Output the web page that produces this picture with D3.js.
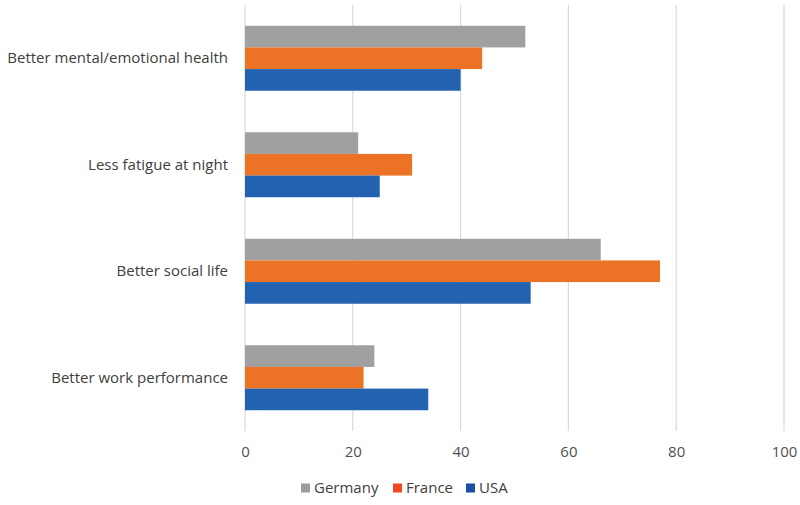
<!DOCTYPE html>
<html><head><meta charset="utf-8">
<script src="https://cdn.jsdelivr.net/npm/d3@7"></script>
<style>body{margin:0;background:#fff}svg{display:block}text{font-family:"Open Sans",sans-serif}</style>
</head><body><svg id="c" width="800" height="505"></svg>
<script>
const categories = ["Better mental/emotional health","Less fatigue at night","Better social life","Better work performance"];
const seriesNames = ["Germany","France","USA"];
const germany = [52,21,66,24];
const france = [44,31,77,22];
const usa = [40,25,53,34];
const xTicks = [0,20,40,60,80,100];
const colors = ["#A0A0A0","#EC7326","#2262B0"];
const legendColors = ["#9C9C9C","#EE4A1E","#1A4FA8"];

const svg = d3.select("#c");
const x = d3.scaleLinear().domain([0,100]).range([245,784]);
const y = d3.scaleBand().domain(categories).range([5,431]).paddingInner(0.39).paddingOuter(0.195);
const ys = d3.scaleBand().domain(seriesNames).range([0,y.bandwidth()]);

svg.append("g").selectAll("line").data(xTicks).join("line")
  .attr("x1",d=>x(d)).attr("x2",d=>x(d)).attr("y1",5).attr("y2",431)
  .attr("stroke","#d9d9d9").attr("stroke-width",1.2);

const data = [germany,france,usa];
const rows = [];
categories.forEach((c,i)=>seriesNames.forEach((s,j)=>rows.push({c,s,v:data[j][i],j})));
svg.append("g").selectAll("rect").data(rows).join("rect")
  .attr("x",x(0)).attr("y",d=>y(d.c)+ys(d.s)).attr("width",d=>x(d.v)-x(0)).attr("height",ys.bandwidth())
  .attr("fill",d=>colors[d.j]);

const xAxis = d3.axisBottom(x).tickValues(xTicks).tickSize(0).tickPadding(0);
const gx = svg.append("g").attr("transform","translate(0,452)").call(xAxis);
gx.select(".domain").remove();
gx.selectAll("text").attr("font-size","15px").attr("fill","#505050").attr("font-family","Open Sans, sans-serif").attr("dy","0.35em");

const yAxis = d3.axisLeft(y).tickSize(0).tickPadding(17);
const gy = svg.append("g").attr("transform","translate(245,0)").call(yAxis);
gy.select(".domain").remove();
gy.selectAll("text").attr("font-size","15px").attr("fill","#404040").attr("font-family","Open Sans, sans-serif");

const legX = [301,393,466];
const lg = svg.append("g").selectAll("g").data(seriesNames).join("g")
  .attr("transform",(d,i)=>`translate(${legX[i]},488)`);
lg.append("rect").attr("x",0).attr("y",-4.5).attr("width",9).attr("height",9).attr("fill",(d,i)=>legendColors[i]);
lg.append("text").attr("x",13).attr("dy","0.35em").attr("font-size","15px").attr("fill","#404040").text(d=>d);
</script></body></html>
